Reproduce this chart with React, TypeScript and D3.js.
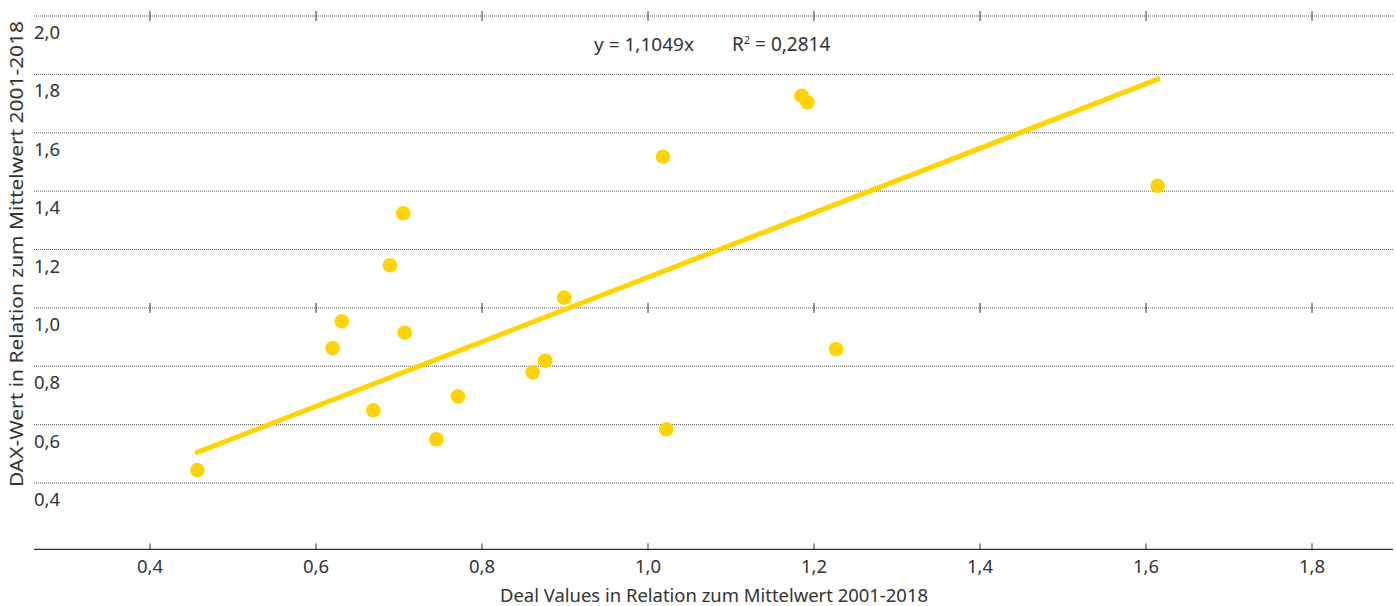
import React from "react";
import { scaleLinear, line } from "d3";

const width = 1396;
const height = 606;

// Deal values vs DAX, both relative to mean 2001-2018
const dealValues = [0.457, 0.62, 0.631, 0.669, 0.689, 0.705, 0.707, 0.745, 0.771, 0.861, 0.876, 0.899, 1.018, 1.022, 1.185, 1.192, 1.2265, 1.614];
const daxValues = [0.444, 0.862, 0.954, 0.649, 1.146, 1.324, 0.915, 0.55, 0.697, 0.779, 0.819, 1.035, 1.518, 0.584, 1.727, 1.704, 0.859, 1.418];
const xTicks = [0.4, 0.6, 0.8, 1.0, 1.2, 1.4, 1.6, 1.8];
const yTicks = [2.0, 1.8, 1.6, 1.4, 1.2, 1.0, 0.8, 0.6, 0.4];
const slope = 1.1049;
const equation = "y = 1,1049x";
const rSquared = "0,2814";

const yellow = "#ffd400";
const ink = "#333333";
const font = "'Noto Sans', sans-serif";

const fmt = (v: number) => v.toFixed(1).replace(".", ",");

export default function App() {
  const x = scaleLinear().domain([0.4, 1.8]).range([150, 1312]);
  const y = scaleLinear().domain([0.4, 2.0]).range([483, 16]);
  const left = 34;
  const right = 1393;
  const axisY = y(0.2) + 8;

  const xMin = Math.min(...dealValues);
  const xMax = Math.max(...dealValues);
  const trend = line<number>()
    .x(d => x(d))
    .y(d => y(d * slope));

  return (
    <svg width={width} height={height} style={{ position: "absolute", left: 0, top: 0 }} fontFamily={font}>
      {/* grid */}
      {yTicks.map(t => (
        <g key={t}>
          <line x1={left} x2={right} y1={y(t)} y2={y(t)} stroke="#555" strokeWidth={1} strokeDasharray="1 1" />
          <text x={left} y={y(t) + 23} fontSize={18.5} fill={ink}>{fmt(t)}</text>
        </g>
      ))}
      {/* tick marks on 2,0 and 1,0 lines */}
      {[2.0, 1.0].map(t =>
        xTicks.map(v => (
          <line key={t + "-" + v} x1={x(v)} x2={x(v)} y1={y(t) - 5} y2={y(t) + 5} stroke={ink} strokeWidth={1} />
        ))
      )}
      {/* bottom axis */}
      <line x1={left} x2={right} y1={axisY} y2={axisY} stroke={ink} strokeWidth={1.2} />
      {xTicks.map(v => (
        <g key={v}>
          <line x1={x(v)} x2={x(v)} y1={axisY - 6} y2={axisY} stroke={ink} strokeWidth={1} />
          <text x={x(v)} y={axisY + 24} textAnchor="middle" fontSize={18.5} fill={ink}>{fmt(v)}</text>
        </g>
      ))}
      {/* trend line */}
      <path d={trend([xMin, xMax]) || ""} stroke={yellow} strokeWidth={5} strokeLinecap="square" fill="none" />
      {dealValues.map((d, i) => (
        <circle key={i} cx={x(d)} cy={y(daxValues[i])} r={7.3} fill={yellow} />
      ))}
      <text x={594} y={51} fontSize={18} fill={ink} textLength={100} lengthAdjust="spacingAndGlyphs">{equation}</text>
      <text x={732} y={51} fontSize={19} fill={ink}>
        R<tspan dy={-7} fontSize={11}>2</tspan><tspan dy={7}> = {rSquared}</tspan>
      </text>
      {/* axis titles */}
      <text x={714} y={602} textAnchor="middle" fontSize={18} fill={ink} textLength={428} lengthAdjust="spacingAndGlyphs">Deal Values in Relation zum Mittelwert 2001-2018</text>
      <text transform="translate(23,254) rotate(-90)" textAnchor="middle" fontSize={18} fill={ink} textLength={466} lengthAdjust="spacingAndGlyphs">DAX-Wert in Relation zum Mittelwert 2001-2018</text>
    </svg>
  );
}
